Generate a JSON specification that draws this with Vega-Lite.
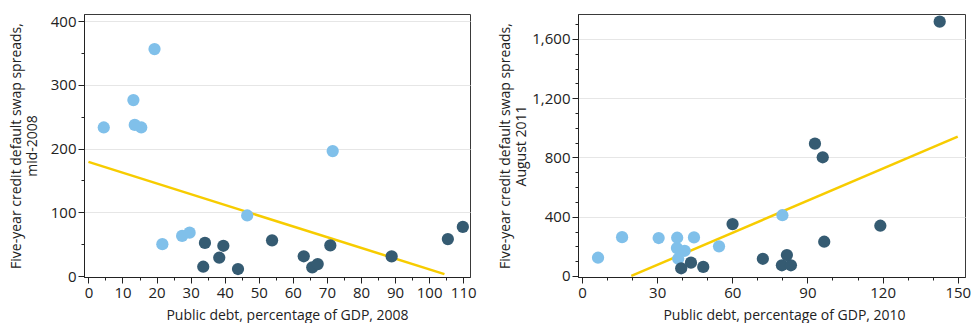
{
  "$schema": "https://vega.github.io/schema/vega-lite/v6.json",
  "padding": {"left": 8, "top": 13, "right": 0, "bottom": 0},
  "spacing": 21,
  "config": {
    "view": {"stroke": "#3a3a3a", "strokeWidth": 1},
    "font": "Open Sans",
    "axis": {
      "labelFont": "Open Sans", "labelFontSize": 15, "labelColor": "#222",
      "titleFont": "Open Sans", "titleFontSize": 14, "titleFontWeight": "normal", "titleColor": "#222",
      "domainColor": "#222", "tickColor": "#222", "labelPadding": 2,
      "labelOverlap": false, "labelBound": false, "labelFlush": false,
      "gridColor": "#e6e6e6", "gridWidth": 1
    }
  },
  "datasets": {
    "pts2008": [
      {"debt": 4.5, "cds": 233, "grp": "light"},
      {"debt": 13.2, "cds": 276, "grp": "light"},
      {"debt": 13.6, "cds": 237, "grp": "light"},
      {"debt": 15.5, "cds": 233, "grp": "light"},
      {"debt": 19.4, "cds": 356, "grp": "light"},
      {"debt": 21.7, "cds": 50, "grp": "light"},
      {"debt": 27.5, "cds": 63, "grp": "light"},
      {"debt": 29.7, "cds": 68, "grp": "light"},
      {"debt": 46.6, "cds": 95, "grp": "light"},
      {"debt": 71.7, "cds": 196, "grp": "light"},
      {"debt": 34.2, "cds": 52, "grp": "dark"},
      {"debt": 33.7, "cds": 14.6, "grp": "dark"},
      {"debt": 38.4, "cds": 28.7, "grp": "dark"},
      {"debt": 39.6, "cds": 47.5, "grp": "dark"},
      {"debt": 43.9, "cds": 11, "grp": "dark"},
      {"debt": 53.9, "cds": 56, "grp": "dark"},
      {"debt": 63.2, "cds": 31, "grp": "dark"},
      {"debt": 65.7, "cds": 13.6, "grp": "dark"},
      {"debt": 67.3, "cds": 18.8, "grp": "dark"},
      {"debt": 71.0, "cds": 48, "grp": "dark"},
      {"debt": 89.0, "cds": 30.8, "grp": "dark"},
      {"debt": 105.5, "cds": 58, "grp": "dark"},
      {"debt": 109.9, "cds": 77, "grp": "dark"}
    ],
    "fit2008": [
      {"debt": 0, "cds": 179},
      {"debt": 104.5, "cds": 3}
    ],
    "pts2010": [
      {"debt": 6.4, "cds": 123, "grp": "light"},
      {"debt": 16.0, "cds": 262, "grp": "light"},
      {"debt": 30.6, "cds": 256, "grp": "light"},
      {"debt": 38.0, "cds": 258, "grp": "light"},
      {"debt": 44.7, "cds": 260, "grp": "light"},
      {"debt": 37.9, "cds": 188, "grp": "light"},
      {"debt": 41.0, "cds": 170, "grp": "light"},
      {"debt": 38.4, "cds": 116, "grp": "light"},
      {"debt": 54.7, "cds": 200, "grp": "light"},
      {"debt": 80.0, "cds": 410, "grp": "light"},
      {"debt": 39.6, "cds": 52, "grp": "dark"},
      {"debt": 43.5, "cds": 90, "grp": "dark"},
      {"debt": 48.4, "cds": 61, "grp": "dark"},
      {"debt": 60.1, "cds": 350, "grp": "dark"},
      {"debt": 72.2, "cds": 116, "grp": "dark"},
      {"debt": 79.8, "cds": 72, "grp": "dark"},
      {"debt": 83.4, "cds": 72, "grp": "dark"},
      {"debt": 81.8, "cds": 141, "grp": "dark"},
      {"debt": 93.0, "cds": 893, "grp": "dark"},
      {"debt": 96.1, "cds": 801, "grp": "dark"},
      {"debt": 96.7, "cds": 231, "grp": "dark"},
      {"debt": 119.1, "cds": 339, "grp": "dark"},
      {"debt": 142.8, "cds": 1716, "grp": "dark"}
    ],
    "fit2010": [
      {"debt": 19.7, "cds": 0},
      {"debt": 150, "cds": 940}
    ]
  },
  "hconcat": [
    {
      "width": 386,
      "height": 263,
      "encoding": {
        "x": {
          "field": "debt", "type": "quantitative",
          "scale": {"domain": [-1.3, 112], "nice": false, "zero": false},
          "axis": {
            "title": "Public debt, percentage of GDP, 2008",
            "values": [0,5,10,15,20,25,30,35,40,45,50,55,60,65,70,75,80,85,90,95,100,105,110],
            "labelExpr": "datum.value % 10 === 0 ? datum.label : ''",
            "labelOverlap": false,
            "tickSize": {"condition": {"test": "datum.value % 10 === 0", "value": 6}, "value": 3},
            "grid": false,
            "titlePadding": 8,
            "titleX": 203
          }
        },
        "y": {
          "field": "cds", "type": "quantitative",
          "scale": {"domain": [-1.5, 411], "nice": false, "zero": false},
          "axis": {
            "title": ["Five-year credit default swap spreads,", "mid-2008"],
            "values": [0,50,100,150,200,250,300,350,400],
            "labelExpr": "datum.value % 100 === 0 ? datum.label : ''",
            "labelOverlap": false,
            "tickSize": {"condition": {"test": "datum.value % 100 === 0", "value": 6}, "value": 3},
            "grid": true,
            "gridOpacity": {"condition": {"test": "datum.value % 100 === 0 && datum.value > 0", "value": 1}, "value": 0},
            "titlePadding": 11
          }
        }
      },
      "layer": [
        {
          "data": {"name": "fit2008"},
          "mark": {"type": "line", "color": "#f7cc00", "strokeWidth": 2.5}
        },
        {
          "data": {"name": "pts2008"},
          "mark": {"type": "circle", "size": 150, "opacity": 1},
          "encoding": {
            "color": {
              "field": "grp", "type": "nominal",
              "scale": {"domain": ["light", "dark"], "range": ["#80c0ea", "#355b72"]},
              "legend": null
            }
          }
        }
      ]
    },
    {
      "width": 387,
      "height": 263,
      "encoding": {
        "x": {
          "field": "debt", "type": "quantitative",
          "scale": {"domain": [-1.6, 152.9], "nice": false, "zero": false},
          "axis": {
            "title": "Public debt, percentage of GDP, 2010",
            "values": [0,10,20,30,40,50,60,70,80,90,100,110,120,130,140,150],
            "labelExpr": "datum.value % 30 === 0 ? datum.label : ''",
            "labelOverlap": false,
            "tickSize": {"condition": {"test": "datum.value % 30 === 0", "value": 6}, "value": 3},
            "grid": false,
            "titlePadding": 8,
            "titleX": 206
          }
        },
        "y": {
          "field": "cds", "type": "quantitative",
          "scale": {"domain": [-7, 1768], "nice": false, "zero": false},
          "axis": {
            "title": ["Five-year credit default swap spreads,", "August 2011"],
            "values": [0,100,200,300,400,500,600,700,800,900,1000,1100,1200,1300,1400,1500,1600,1700],
            "labelExpr": "datum.value % 400 === 0 ? datum.label : ''",
            "labelOverlap": false,
            "tickSize": {"condition": {"test": "datum.value % 400 === 0", "value": 6}, "value": 3},
            "grid": true,
            "gridOpacity": {"condition": {"test": "datum.value % 400 === 0 && datum.value > 0", "value": 1}, "value": 0},
            "titlePadding": 3
          }
        }
      },
      "layer": [
        {
          "data": {"name": "fit2010"},
          "mark": {"type": "line", "color": "#f7cc00", "strokeWidth": 2.5}
        },
        {
          "data": {"name": "pts2010"},
          "mark": {"type": "circle", "size": 150, "opacity": 1},
          "encoding": {
            "color": {
              "field": "grp", "type": "nominal",
              "scale": {"domain": ["light", "dark"], "range": ["#80c0ea", "#355b72"]},
              "legend": null
            }
          }
        }
      ]
    }
  ]
}
